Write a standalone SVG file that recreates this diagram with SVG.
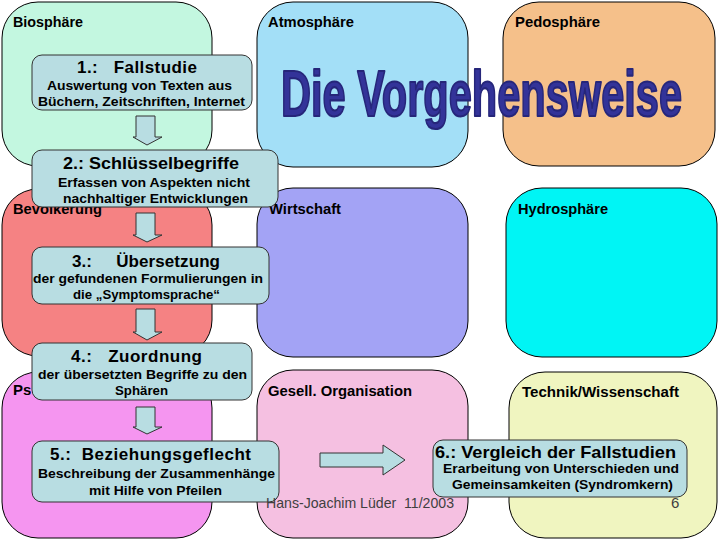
<svg xmlns="http://www.w3.org/2000/svg" width="720" height="540" viewBox="0 0 720 540">
<style>
.sph{stroke:#000;stroke-width:1}
.lbl{font-family:"Liberation Sans",Arial,sans-serif;font-weight:bold;font-size:15px;fill:#000}
.step{fill:#b8dde2;stroke:#333;stroke-width:1}
.t{font-family:"Liberation Sans",Arial,sans-serif;font-weight:bold;font-size:17px;fill:#000}
.s{font-family:"Liberation Sans",Arial,sans-serif;font-weight:bold;font-size:13px;fill:#000}
.arr{fill:#b8dde2;stroke:#333;stroke-width:1}
.foot{font-family:"Liberation Sans",Arial,sans-serif;font-size:15px;fill:#404040}
</style>
<rect width="720" height="540" fill="#fff"/>
<g id="spheres">
<g id="biosphaere"><rect class="sph" x="2" y="2" width="210" height="164" rx="36" fill="#c3f7e0"/><text class="lbl" x="13" y="27" textLength="70" lengthAdjust="spacingAndGlyphs">Biosphäre</text></g>
<g id="atmosphaere"><rect class="sph" x="257" y="2" width="211" height="165" rx="36" fill="#a3dff7"/><text class="lbl" x="268" y="27" textLength="86" lengthAdjust="spacingAndGlyphs">Atmosphäre</text></g>
<g id="pedosphaere"><rect class="sph" x="503" y="2" width="212" height="164" rx="36" fill="#f5c08a"/><text class="lbl" x="515" y="27" textLength="85" lengthAdjust="spacingAndGlyphs">Pedosphäre</text></g>
<g id="bevoelkerung"><rect class="sph" x="2" y="189" width="210" height="167" rx="36" fill="#f58283"/><text class="lbl" x="13" y="214" textLength="89" lengthAdjust="spacingAndGlyphs">Bevölkerung</text></g>
<g id="wirtschaft"><rect class="sph" x="257" y="188" width="211" height="169" rx="36" fill="#a3a3f5"/><text class="lbl" x="269" y="214" textLength="72" lengthAdjust="spacingAndGlyphs">Wirtschaft</text></g>
<g id="hydrosphaere"><rect class="sph" x="506" y="188" width="211" height="169" rx="36" fill="#00f5f5"/><text class="lbl" x="518" y="214" textLength="90" lengthAdjust="spacingAndGlyphs">Hydrosphäre</text></g>
<g id="psychosphaere"><rect class="sph" x="2" y="372" width="210" height="166" rx="36" fill="#f595f0"/><text class="lbl" x="13" y="395">Ps</text></g>
<g id="gesell"><rect class="sph" x="257" y="370" width="211" height="168" rx="36" fill="#f5c0e1"/><text class="lbl" x="268" y="396" textLength="144" lengthAdjust="spacingAndGlyphs">Gesell. Organisation</text></g>
<g id="technik"><rect class="sph" x="509" y="372" width="208" height="166" rx="36" fill="#f0f5c0"/><text class="lbl" x="522" y="397" textLength="157" lengthAdjust="spacingAndGlyphs">Technik/Wissenschaft</text></g>
</g>
<g id="title"><text x="281" y="116" font-family="'Liberation Sans',Arial,sans-serif" font-weight="bold" font-size="65" fill="#333399" stroke="#26267a" stroke-width="2.2" stroke-linejoin="round" textLength="401" lengthAdjust="spacingAndGlyphs">Die Vorgehensweise</text></g>
<g id="connectors">
<polygon class="arr" points="136,116 155,116 155,137 162,137 147,145 133,137 136,137"/>
<polygon class="arr" points="136,213 155,213 155,235 162,235 147,242 133,235 136,235"/>
<polygon class="arr" points="136,309 155,309 155,332 162,332 147,340 133,332 136,332"/>
<polygon class="arr" points="136,407 155,407 155,427 162,427 147,434 133,427 136,427"/>
<polygon class="arr" points="320,453 383,453 383,445 405,460 383,475 383,467 320,467"/>
</g>
<g id="step1"><rect class="step" x="32" y="55" width="220" height="55" rx="10"/>
<text class="t" x="77" y="73" textLength="120" lengthAdjust="spacing" xml:space="preserve">1.:   Fallstudie</text>
<text class="s" x="47" y="90" textLength="185" lengthAdjust="spacingAndGlyphs">Auswertung von Texten aus</text>
<text class="s" x="38" y="106" textLength="207" lengthAdjust="spacingAndGlyphs">Büchern, Zeitschriften, Internet</text></g>
<g id="step2"><rect class="step" x="32" y="150" width="246" height="57" rx="10"/>
<text class="t" x="63" y="169" textLength="176" lengthAdjust="spacingAndGlyphs">2.: Schlüsselbegriffe</text>
<text class="s" x="58" y="187" textLength="192" lengthAdjust="spacingAndGlyphs">Erfassen von Aspekten nicht</text>
<text class="s" x="63" y="203" textLength="185" lengthAdjust="spacingAndGlyphs">nachhaltiger Entwicklungen</text></g>
<g id="step3"><rect class="step" x="32" y="247" width="237" height="57" rx="10"/>
<text class="t" x="72" y="267" textLength="148" lengthAdjust="spacing" xml:space="preserve">3.:     Übersetzung</text>
<text class="s" x="33" y="283" textLength="230" lengthAdjust="spacingAndGlyphs">der gefundenen Formulierungen in</text>
<text class="s" x="73" y="299" textLength="147" lengthAdjust="spacingAndGlyphs">die „Symptomsprache“</text></g>
<g id="step4"><rect class="step" x="32" y="343" width="220" height="57" rx="10"/>
<text class="t" x="71" y="362" textLength="131" lengthAdjust="spacing" xml:space="preserve">4.:   Zuordnung</text>
<text class="s" x="38" y="379" textLength="209" lengthAdjust="spacingAndGlyphs">der übersetzten Begriffe zu den</text>
<text class="s" x="115" y="395" textLength="53" lengthAdjust="spacingAndGlyphs">Sphären</text></g>
<g id="step5"><rect class="step" x="32" y="441" width="247" height="61" rx="10"/>
<text class="t" x="50" y="460" textLength="201" lengthAdjust="spacing" xml:space="preserve">5.:  Beziehungsgeflecht</text>
<text class="s" x="38" y="478" textLength="237" lengthAdjust="spacingAndGlyphs">Beschreibung der Zusammenhänge</text>
<text class="s" x="89" y="495" textLength="133" lengthAdjust="spacingAndGlyphs">mit Hilfe von Pfeilen</text></g>
<g id="step6"><rect class="step" x="433" y="440" width="254" height="57" rx="10"/>
<text class="t" x="435" y="458" textLength="241" lengthAdjust="spacingAndGlyphs">6.: Vergleich der Fallstudien</text>
<text class="s" x="443" y="473" textLength="236" lengthAdjust="spacingAndGlyphs">Erarbeitung von Unterschieden und</text>
<text class="s" x="452" y="489" textLength="221" lengthAdjust="spacingAndGlyphs">Gemeinsamkeiten (Syndromkern)</text></g>
<g id="footer">
<text class="foot" x="266" y="508" textLength="188" lengthAdjust="spacingAndGlyphs" xml:space="preserve">Hans-Joachim Lüder  11/2003</text>
<text class="foot" x="671" y="508">6</text>
</g>
</svg>
